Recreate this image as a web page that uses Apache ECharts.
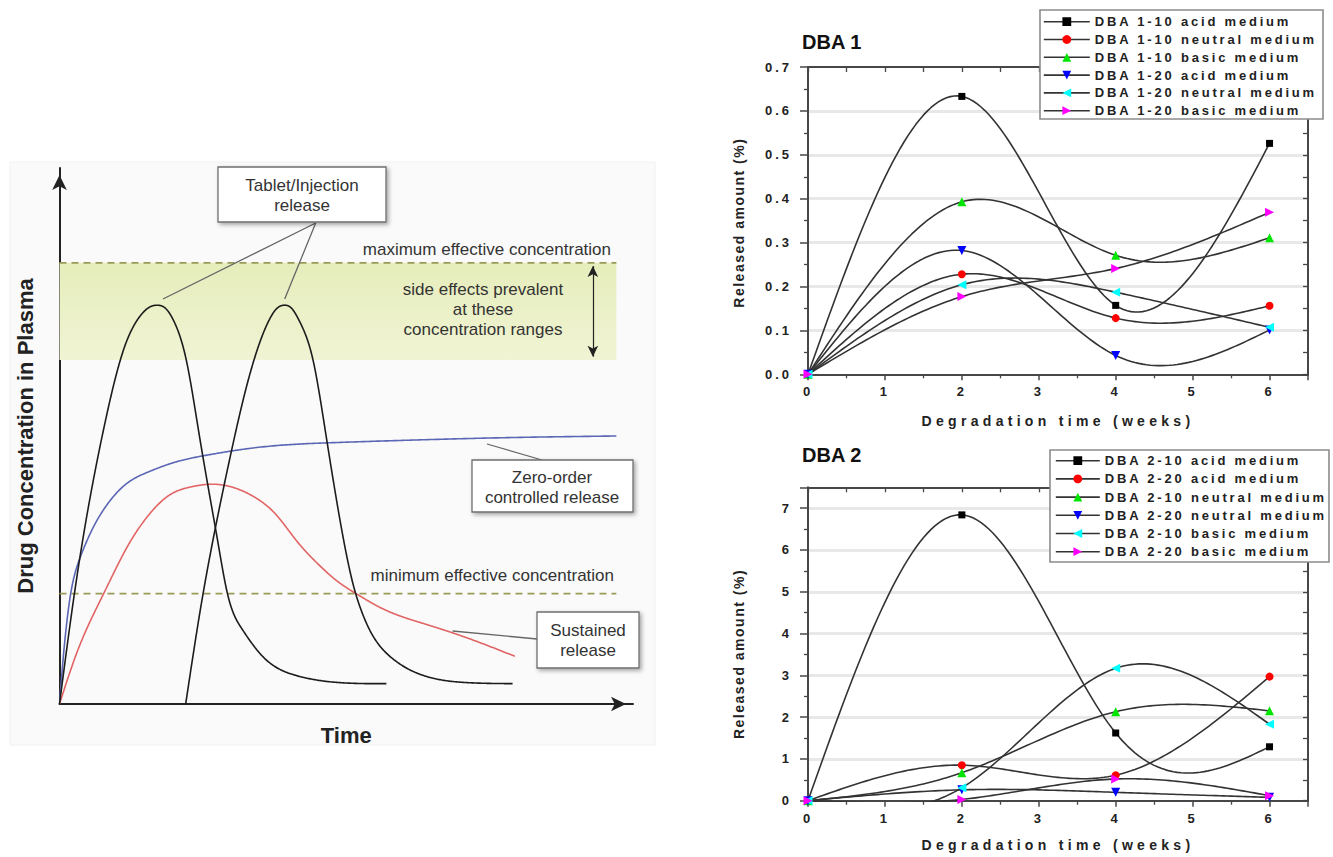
<!DOCTYPE html>
<html>
<head>
<meta charset="utf-8">
<script src="https://cdn.jsdelivr.net/npm/echarts@6/dist/echarts.min.js"></script>
<style>
html,body{margin:0;padding:0;background:#ffffff;}
#c{width:1333px;height:857px;}
</style>
</head>
<body>
<div id="c"></div>
<script>
// ===================== DATA =====================
// Left schematic: time (arbitrary units 0-100) vs drug concentration (arbitrary units 0-100)
const tabletRelease1 = [[0,0],[2.6,20.6],[7.7,51.3],[11.3,66.5],[14,72.3],[15.8,74.1],[17.1,74.4],[18.4,73.9],[20,71.3],[22.1,64.2],[24.2,51.3],[26,40],[27.7,29.7],[29.2,21.0],[30.3,17.0],[31.7,14.2],[35.4,8.9],[41.3,5.3],[48.7,4.0],[57.0,3.8]];
const tabletRelease2 = [[22,0],[24.7,18.5],[27.3,33.5],[29.9,46.8],[32.2,57.5],[34.3,65.5],[36.4,71.3],[38,73.9],[39.1,74.4],[40.4,73.9],[41.9,71.3],[44.2,64.2],[46.3,51.3],[48,40],[49.7,29.7],[51.4,21.5],[52.5,17.8],[53.9,14.2],[57.6,8.9],[63.5,5.3],[70.9,4.0],[79.0,3.8]];
const zeroOrderRelease = [[0,0],[0.6,8],[1.3,15.5],[2.1,21.5],[3.1,25.8],[4.4,29.5],[6.0,33.2],[8.1,36.9],[11.8,41.2],[15.5,43.3],[19.2,44.8],[26.6,46.6],[34.0,47.8],[48.7,48.8],[63.5,49.3],[78.3,49.7],[97.1,50.0]];
const sustainedRelease = [[0,0],[3,9.5],[7.7,20.6],[11.8,29.3],[15.5,35.2],[19.2,39.0],[22.9,40.5],[26.2,41.0],[30.3,40.4],[34.0,38.6],[37.7,35.4],[41.3,30.5],[45.0,26.2],[48.7,22.7],[51.7,20.6],[56.1,17.9],[63.5,15.0],[70.9,12.4],[79.4,8.9]];
const maxEffective = 82.3;
const sideEffectLower = 64.2;
const minEffective = 20.6;
const thresholdEnd = 97.1;
const sideEffectArrowTime = 93;

// DBA charts: degradation time (weeks)
const weeks = [0, 2, 4, 6];
const dba1Names = ['DBA 1-10 acid medium','DBA 1-10 neutral medium','DBA 1-10 basic medium','DBA 1-20 acid medium','DBA 1-20 neutral medium','DBA 1-20 basic medium'];
const dba1_10_acid    = [0, 0.633, 0.157, 0.526];
const dba1_10_neutral = [0, 0.228, 0.128, 0.156];
const dba1_10_basic   = [0, 0.393, 0.271, 0.311];
const dba1_20_acid    = [0, 0.282, 0.043, 0.101];
const dba1_20_neutral = [0, 0.204, 0.187, 0.107];
const dba1_20_basic   = [0, 0.177, 0.241, 0.369];

const dba2Names = ['DBA 2-10 acid medium','DBA 2-20 acid medium','DBA 2-10 neutral medium','DBA 2-20 neutral medium','DBA 2-10 basic medium','DBA 2-20 basic medium'];
const dba2_10_acid    = [0, 6.84, 1.62, 1.29];
const dba2_20_acid    = [0, 0.85, 0.61, 2.97];
const dba2_10_neutral = [0, 0.67, 2.13, 2.15];
const dba2_20_neutral = [0, 0.26, 0.20, 0.08];
const dba2_10_basic   = [0, 0.31, 3.17, 1.83];
const dba2_20_basic   = [0, 0.03, 0.52, 0.12];

const xNameDBA = 'Degradation time (weeks)';
const yNameDBA = 'Released amount (%)';

// ===================== RENDER HELPERS =====================
const FONT = '"Liberation Sans", Arial, Helvetica, sans-serif';
const markerColors = ['#000000','#ff0000','#00e600','#0000ff','#00ffff','#ff00ff'];
const markerSymbols = ['rect','circle','triangle','path://M0,0L10,0L5,8.66Z','path://M8.66,0L8.66,10L0,5Z','path://M0,0L8.66,5L0,10Z'];
const markerSizes = [7, 8, 9, 9, 9, 9];

// Natural cubic spline through the series' own data points (the curve style used by the original plots)
function naturalSpline(xs, ys) {
  const n = xs.length, h = [], M = new Array(n).fill(0);
  for (let i = 0; i < n - 1; i++) h.push(xs[i + 1] - xs[i]);
  if (n > 2) {
    const a = [], b = [], c = [], d = [];
    for (let i = 1; i < n - 1; i++) {
      a.push(h[i - 1]); b.push(2 * (h[i - 1] + h[i])); c.push(h[i]);
      d.push(6 * ((ys[i + 1] - ys[i]) / h[i] - (ys[i] - ys[i - 1]) / h[i - 1]));
    }
    const m = b.length;
    for (let r = 1; r < m; r++) { const w = a[r] / b[r - 1]; b[r] -= w * c[r - 1]; d[r] -= w * d[r - 1]; }
    const sol = new Array(m);
    sol[m - 1] = d[m - 1] / b[m - 1];
    for (let r = m - 2; r >= 0; r--) sol[r] = (d[r] - c[r] * sol[r + 1]) / b[r];
    for (let r = 0; r < m; r++) M[r + 1] = sol[r];
  }
  return function (x, i) {
    const hi = h[i], A = xs[i + 1] - x, B = x - xs[i];
    return M[i] * A * A * A / (6 * hi) + M[i + 1] * B * B * B / (6 * hi) +
      (ys[i] / hi - M[i] * hi / 6) * A + (ys[i + 1] / hi - M[i + 1] * hi / 6) * B;
  };
}

function splineSeries(name, data, xi, yi, color, width, z) {
  return {
    name, type: 'custom', xAxisIndex: xi, yAxisIndex: yi, z, silent: true,
    data,
    encode: {x: 0, y: 1},
    renderItem: function (params, api) {
      if (params.dataIndexInside !== 0) return null;
      const n = params.dataInsideLength;
      const xs = [], ys = [];
      for (let k = 0; k < n; k++) { xs.push(api.value(0, k)); ys.push(api.value(1, k)); }
      const f = naturalSpline(xs, ys);
      const pts = [];
      for (let i = 0; i < n - 1; i++) {
        const steps = 40;
        for (let s = (i === 0 ? 0 : 1); s <= steps; s++) {
          const x = xs[i] + (xs[i + 1] - xs[i]) * s / steps;
          pts.push(api.coord([x, f(x, i)]));
        }
      }
      const cs = params.coordSys;
      return {
        type: 'polyline', silent: true,
        shape: {points: pts},
        style: {stroke: color, lineWidth: width, fill: null, lineJoin: 'round'},
        clipPath: {type: 'rect', shape: {x: cs.x - 1, y: cs.y - 1, width: cs.width + 2, height: cs.height + 2}}
      };
    }
  };
}

function dbaSeries(names, valueSets, xi, yi) {
  const out = [];
  valueSets.forEach((vals, i) => {
    const pts = weeks.map((w, k) => [w, vals[k]]);
    out.push(splineSeries(names[i] + ' curve', pts, xi, yi, '#333333', 1.6, 2));
    out.push({
      name: names[i], type: 'line', xAxisIndex: xi, yAxisIndex: yi,
      data: pts, symbol: markerSymbols[i], symbolSize: markerSizes[i], showAllSymbol: true,
      itemStyle: {color: markerColors[i]},
      lineStyle: {color: '#333333', width: 1.6, opacity: 0},
      z: 3
    });
  });
  return out;
}

function frameAxes(gridIndex, yMax, yMajor, yRightStep, yFmt, xGap, yGap, yPad) {
  const axisCol = '#474747';
  const xa = [{
    gridIndex, type: 'value', position: 'bottom', min: 0, max: 6.5, interval: 1,
    name: xNameDBA, nameLocation: 'middle', nameGap: xGap,
    nameTextStyle: {fontFamily: FONT, fontSize: 14, fontWeight: 'bold', color: '#222'},
    axisLine: {show: true, onZero: false, lineStyle: {color: axisCol, width: 2}},
    axisTick: {show: true, inside: false, length: 6, lineStyle: {color: axisCol, width: 1.5}},
    minorTick: {show: true, splitNumber: 2, length: 4, lineStyle: {color: axisCol, width: 1.3}},
    axisLabel: {margin: 11, fontFamily: FONT, fontSize: 13, fontWeight: 'bold', color: '#222',
      formatter: v => Number.isInteger(v) ? String(v) : ''},
    splitLine: {show: false}
  }, {
    gridIndex, type: 'value', position: 'top', min: 0, max: 6.5, interval: 0.5,
    axisLine: {show: true, onZero: false, lineStyle: {color: axisCol, width: 2}},
    axisTick: {show: true, inside: true, length: 5, lineStyle: {color: axisCol, width: 1.3}},
    axisLabel: {show: false}, splitLine: {show: false}
  }];
  const ya = [{
    gridIndex, type: 'value', position: 'left', min: 0, max: yMax, interval: yMajor,
    name: yNameDBA, nameLocation: 'middle', nameGap: yGap,
    nameTextStyle: {fontFamily: FONT, fontSize: 14, fontWeight: 'bold', color: '#222', padding: yPad},
    axisLine: {show: true, onZero: false, lineStyle: {color: axisCol, width: 2}},
    axisTick: {show: true, inside: false, length: 8, lineStyle: {color: axisCol, width: 1.5}},
    minorTick: {show: true, splitNumber: 2, length: 4, lineStyle: {color: axisCol, width: 1.3}},
    axisLabel: {margin: 16, fontFamily: FONT, fontSize: 13, fontWeight: 'bold', color: '#222', formatter: yFmt},
    splitLine: {show: true, showMinLine: false, showMaxLine: false, lineStyle: {color: '#e8e8e8', width: 3}}
  }, {
    gridIndex, type: 'value', position: 'right', min: 0, max: yMax, interval: yRightStep,
    axisLine: {show: true, onZero: false, lineStyle: {color: axisCol, width: 2}},
    axisTick: {show: true, inside: true, length: 5, lineStyle: {color: axisCol, width: 1.3}},
    axisLabel: {show: false}, splitLine: {show: false}
  }];
  return {xa, ya};
}

const f1 = frameAxes(1, 0.7, 0.1, 0.05, v => v.toFixed(1), 40, 62, [0, 4, 0, 0]);
const f2 = frameAxes(2, 7.5, 1, 0.5, v => Number.isInteger(v) ? String(v) : '', 37, 62, [0, 20, 0, 0]);

const leftArrowAxis = (name, gap) => ({
  gridIndex: 0, type: 'value', min: 0, max: 100,
  name, nameLocation: 'middle', nameGap: gap,
  nameTextStyle: {fontFamily: FONT, fontSize: 22, fontWeight: 'bold', color: '#222'},
  axisLine: {show: true, onZero: false, symbol: ['none', 'arrow'], symbolSize: [11, 15], symbolOffset: [0, -7],
    lineStyle: {color: '#222', width: 2}},
  axisTick: {show: false}, axisLabel: {show: false}, splitLine: {show: false}
});

function textEl(text, x, y, extra) {
  return {
    type: 'text', x, y, z: 20, silent: true,
    style: Object.assign({text, font: '17px ' + FONT, fill: '#333', lineHeight: 20,
      align: 'center', verticalAlign: 'middle', textAlign: 'center', textVerticalAlign: 'middle'}, extra || {})
  };
}
function boxEl(x, y, w, h) {
  return {type: 'rect', z: 18, silent: true, shape: {x, y, width: w, height: h},
    style: {fill: '#ffffff', stroke: '#6f6f6f', lineWidth: 1.3, shadowBlur: 4, shadowColor: 'rgba(0,0,0,0.35)', shadowOffsetX: 2, shadowOffsetY: 2}};
}
function lineEl(x1, y1, x2, y2) {
  return {type: 'line', z: 17, silent: true, shape: {x1, y1, x2, y2}, style: {stroke: '#666', lineWidth: 1.3}};
}

const legendCommon = {
  orient: 'vertical', padding: 0, itemHeight: 11, selectedMode: false, z: 10,
  lineStyle: {color: '#333333', width: 1.6, opacity: 1, type: 'solid'},
  textStyle: {fontFamily: FONT, fontSize: 13, fontWeight: 'bold', color: '#222', lineHeight: 11}
};

const option = {
  animation: false,
  backgroundColor: '#ffffff',
  textStyle: {fontFamily: FONT},
  title: [
    {text: 'DBA 1', left: 802, top: 32, padding: 0, textStyle: {fontFamily: FONT, fontSize: 20, fontWeight: 'bold', color: '#111'}},
    {text: 'DBA 2', left: 802, top: 445, padding: 0, textStyle: {fontFamily: FONT, fontSize: 20, fontWeight: 'bold', color: '#111'}}
  ],
  legend: [
    Object.assign({data: dba1Names, left: 1043, top: 15.2, itemWidth: 46, itemGap: 4.8}, legendCommon),
    Object.assign({data: dba2Names, left: 1055, top: 454.2, itemWidth: 44, itemGap: 5.2}, legendCommon)
  ],
  grid: [
    {left: 59.5, top: 168, width: 573.5, height: 536, outerBoundsMode: 'none', containLabel: false},
    {left: 808, top: 67, width: 500, height: 307.3, outerBoundsMode: 'none', containLabel: false},
    {left: 808, top: 487.3, width: 500, height: 313.4, outerBoundsMode: 'none', containLabel: false}
  ],
  xAxis: [leftArrowAxis('Time', 20)].concat(f1.xa, f2.xa),
  yAxis: [leftArrowAxis('Drug Concentration in Plasma', 23)].concat(f1.ya, f2.ya),
  series: [
    {
      name: 'side effects band', type: 'line', xAxisIndex: 0, yAxisIndex: 0, z: 1, silent: true,
      data: [[0, sideEffectLower], [thresholdEnd, sideEffectLower]], symbol: 'none', lineStyle: {opacity: 0},
      markArea: {silent: true, itemStyle: {color: {type: 'linear', x: 0, y: 0, x2: 0, y2: 1,
        colorStops: [{offset: 0, color: '#e6edbb'}, {offset: 1, color: '#f0f4d4'}]}},
        data: [[{coord: [0, sideEffectLower]}, {coord: [thresholdEnd, maxEffective]}]]}
    },
    {
      name: 'maximum effective concentration', type: 'line', xAxisIndex: 0, yAxisIndex: 0, z: 2, silent: true,
      data: [[0, maxEffective], [thresholdEnd, maxEffective]], symbol: 'none',
      lineStyle: {color: '#9a9a58', width: 1.6, type: [7, 5]},
      markLine: {silent: true, symbol: ['arrow', 'arrow'], symbolSize: [8, 11], label: {show: false},
        lineStyle: {color: '#222', width: 1.2, type: 'solid'},
        data: [[{coord: [sideEffectArrowTime, maxEffective - 0.6]}, {coord: [sideEffectArrowTime, sideEffectLower + 0.6]}]]}
    },
    {
      name: 'minimum effective concentration', type: 'line', xAxisIndex: 0, yAxisIndex: 0, z: 2, silent: true,
      data: [[0, minEffective], [thresholdEnd, minEffective]], symbol: 'none',
      lineStyle: {color: '#9a9a58', width: 1.6, type: [7, 5]}
    },
    splineSeries('Zero-order controlled release', zeroOrderRelease, 0, 0, '#5b66b5', 1.6, 3),
    splineSeries('Sustained release', sustainedRelease, 0, 0, '#e26565', 1.6, 3),
    splineSeries('Tablet/Injection release 1', tabletRelease1, 0, 0, '#1c1c1c', 1.6, 3),
    splineSeries('Tablet/Injection release 2', tabletRelease2, 0, 0, '#1c1c1c', 1.6, 3)
  ].concat(
    dbaSeries(dba1Names, [dba1_10_acid, dba1_10_neutral, dba1_10_basic, dba1_20_acid, dba1_20_neutral, dba1_20_basic], 1, 1),
    dbaSeries(dba2Names, [dba2_10_acid, dba2_20_acid, dba2_10_neutral, dba2_20_neutral, dba2_10_basic, dba2_20_basic], 3, 3)
  ),
  graphic: [
    {type: 'rect', z: -10, silent: true, shape: {x: 10, y: 162, width: 645, height: 583},
     style: {fill: '#fafafa', stroke: '#f1f1f1', lineWidth: 1}},
    // legend frames (DBA 1 / DBA 2)
    {type: 'rect', z: 1, silent: true, shape: {x: 1040, y: 10, width: 283, height: 109},
     style: {fill: '#ffffff', stroke: '#8c8c8c', lineWidth: 1.6}},
    {type: 'rect', z: 1, silent: true, shape: {x: 1050, y: 450, width: 279, height: 112},
     style: {fill: '#ffffff', stroke: '#8c8c8c', lineWidth: 1.6}},
    // annotations of schematic
    lineEl(315.7, 223, 163, 299),
    lineEl(315.7, 223, 284.7, 299),
    boxEl(218, 167, 168, 55),
    textEl('Tablet/Injection\nrelease', 302, 195),
    textEl('maximum effective concentration', 611, 249, {align: 'right', textAlign: 'right'}),
    textEl('side effects prevalent\nat these\nconcentration ranges', 483, 309.5),
    lineEl(487, 444, 542, 460),
    boxEl(472, 460, 161, 52),
    textEl('Zero-order\ncontrolled release', 552, 487),
    textEl('minimum effective concentration', 614, 575, {align: 'right', textAlign: 'right'}),
    lineEl(452.5, 631, 537, 639),
    boxEl(537, 612, 102, 56),
    textEl('Sustained\nrelease', 588, 640)
  ]
};

const chart = echarts.init(document.getElementById('c'), null, {renderer: 'svg', width: 1333, height: 857});
chart.setOption(option);

function applySpacing() {
  const texts = document.querySelectorAll('#c svg text');
  texts.forEach(t => {
    const s = (t.textContent || '').trim();
    let sp = null;
    if (/medium$/.test(s)) sp = 2.8;
    else if (s === xNameDBA) sp = 4.3;
    else if (s === yNameDBA) sp = 1.5;
    else if (/^\d(\.\d)?$/.test(s)) sp = 3;
    if (sp != null) {
      t.setAttribute('letter-spacing', sp + 'px');
      t.style.letterSpacing = sp + 'px';
    }
  });
}
applySpacing();
chart.on('finished', applySpacing);
setTimeout(applySpacing, 0);
</script>
</body>
</html>
